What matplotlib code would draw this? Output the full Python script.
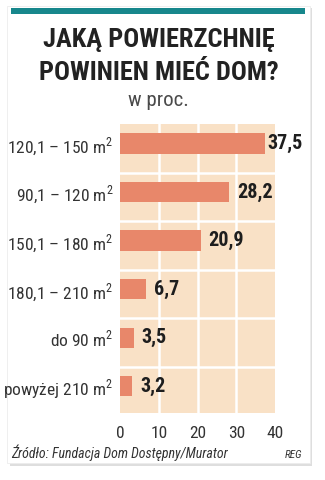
import matplotlib
matplotlib.use("Agg")
import matplotlib.pyplot as plt
from matplotlib.patches import Rectangle

plt.rcParams["font.family"] = ["Roboto Condensed", "DejaVu Sans"]
plt.rcParams["mathtext.fontset"] = "custom"
plt.rcParams["mathtext.rm"] = "Roboto Condensed"

# dane
categories = ["120,1 – 150 m$^2$", "90,1 – 120 m$^2$", "150,1 – 180 m$^2$",
              "180,1 – 210 m$^2$", "do 90 m$^2$", "powyżej 210 m$^2$"]
values = [37.5, 28.2, 20.9, 6.7, 3.5, 3.2]
xticks = [0, 10, 20, 30, 40]

W, H = 325, 480
fig = plt.figure(figsize=(W / 100, H / 100), dpi=100)
fig.patch.set_facecolor("white")

# karta z cieniem i paskiem u góry
fig.patches.append(Rectangle((10 / W, 1 - 466 / H), 302 / W, 458 / H, transform=fig.transFigure,
                             facecolor="#dedede", edgecolor="none", zorder=0))
fig.patches.append(Rectangle((7 / W, 1 - 463 / H), 303 / W, 457 / H, transform=fig.transFigure,
                             facecolor="white", edgecolor="#ececec", lw=0.6, zorder=1))
fig.patches.append(Rectangle((11 / W, 1 - 14 / H), 294 / W, 6 / H, transform=fig.transFigure,
                             facecolor="#17878c", edgecolor="none", zorder=2))

fig.text(159 / W, 1 - 40 / H, "JAKĄ POWIERZCHNIĘ", ha="center", va="center",
         fontsize=19, fontweight="bold", color="#222222", zorder=5)
fig.text(159 / W, 1 - 73 / H, "POWINIEN MIEĆ DOM?", ha="center", va="center",
         fontsize=19, fontweight="bold", color="#222222", zorder=5)
fig.text(158 / W, 1 - 100 / H, "w proc.", ha="center", va="center",
         fontsize=15, color="#4a4a4a", zorder=5)

ax = fig.add_axes([120 / W, 1 - 413 / H, 155 / W, 289 / H], zorder=5)
ax.set_facecolor("#f9e1c6")
ax.barh(range(len(values)), values, height=0.42, color="#e8876a", zorder=3)
for i, v in enumerate(values):
    gap = 0.6 if v > 35 else 2.0
    ax.text(v + gap, i, f"{v:.1f}".replace(".", ","), va="center", ha="left",
            fontsize=14.5, fontweight="bold", color="#1e1e1e", zorder=4, clip_on=False)

ax.set_xlim(0, 40)
ax.set_ylim(5.55, -0.4)
for x in xticks[1:-1]:
    ax.axvline(x, color="white", lw=1.8, zorder=1)
for i in range(len(values) - 1):
    ax.axhline(i + 0.6, color="white", lw=1.8, zorder=1)

ax.set_xticks(xticks)
ax.set_xticklabels([str(t) for t in xticks], fontsize=12.5, color="#333333")
ax.set_yticks(range(len(values)))
ax.set_yticklabels(categories, fontsize=12.5, color="#333333")
ax.tick_params(length=0)
ax.tick_params(axis="x", pad=9)
ax.tick_params(axis="y", pad=5)
for s in ax.spines.values():
    s.set_visible(False)

fig.text(11 / W, 1 - 453 / H, "Źródło: Fundacja Dom Dostępny/Murator", ha="left", va="center",
         fontsize=10, style="italic", color="#333333", zorder=5)
fig.text(302 / W, 1 - 455 / H, "REG", ha="right", va="center",
         fontsize=8, style="italic", color="#333333", zorder=5)

fig.savefig("out.png", dpi=100, facecolor=fig.get_facecolor())
